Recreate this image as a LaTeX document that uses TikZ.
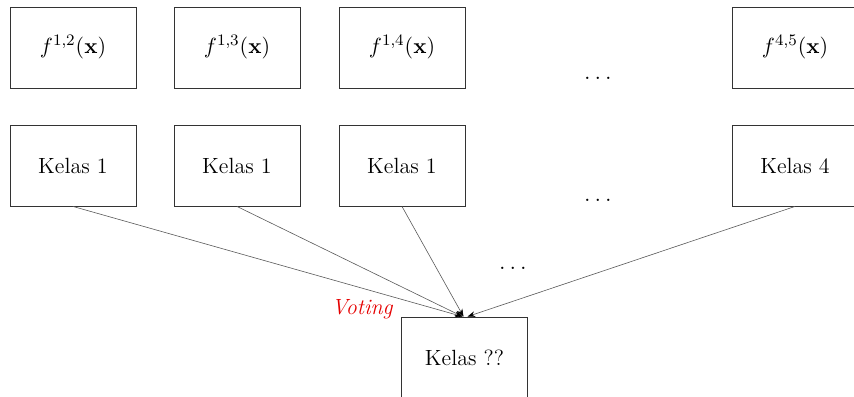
\documentclass[tikz,border=0pt]{standalone}
\usetikzlibrary{arrows.meta}
\begin{document}
\begin{tikzpicture}[x=1pt,y=1pt,
  box/.style={draw=black!80, line width=0.45pt, minimum width=63pt, minimum height=40.5pt,
    inner sep=0pt, font=\fontsize{11}{13}\selectfont},
  vote/.style={draw=black!65, line width=0.3pt, -{Stealth[length=3.8pt,width=2.8pt,black]}},
  dotsnode/.style={inner sep=0pt, font=\fontsize{12}{14}\selectfont}]
  \useasboundingbox (0,0) rectangle (427,-198);
  % binary classifiers
  \node[box] (f12) at (36.5,-23.75) {$f^{1,2}(\mathbf{x})$};
  \node[box] (f13) at (118.5,-23.75) {$f^{1,3}(\mathbf{x})$};
  \node[box] (f14) at (201,-23.75) {$f^{1,4}(\mathbf{x})$};
  \node[box] (f45) at (397.5,-23.75) {$f^{4,5}(\mathbf{x})$};
  % predicted classes
  \node[box] (k12) at (36.5,-82.75) {Kelas 1};
  \node[box] (k13) at (118.5,-82.75) {Kelas 1};
  \node[box] (k14) at (201,-82.75) {Kelas 1};
  \node[box] (k45) at (397.5,-82.75) {Kelas 4};
  % final decision
  \node[box] (final) at (232.25,-178.75) {Kelas ??};
  % ellipses
  \node[dotsnode] (d1) at (299,-39) {$\dots$};
  \node[dotsnode] (d2) at (299,-100) {$\dots$};
  \node[dotsnode] (d3) at (256.5,-134) {$\dots$};
  % voting arrows
  \draw[vote] (k12.south) -- ([xshift=-1pt]final.north);
  \draw[vote] (k13.south) -- ([xshift=-1pt]final.north);
  \draw[vote] (k14.south) -- ([xshift=-0.5pt]final.north);
  \draw[vote] (k45.south) -- ([xshift=1.5pt]final.north);
  \node[anchor=east, inner sep=0pt, text=red!90!black, font=\fontsize{11}{13}\selectfont\itshape]
    (vlabel) at (196.5,-154.5) {Voting};
\end{tikzpicture}
\end{document}
